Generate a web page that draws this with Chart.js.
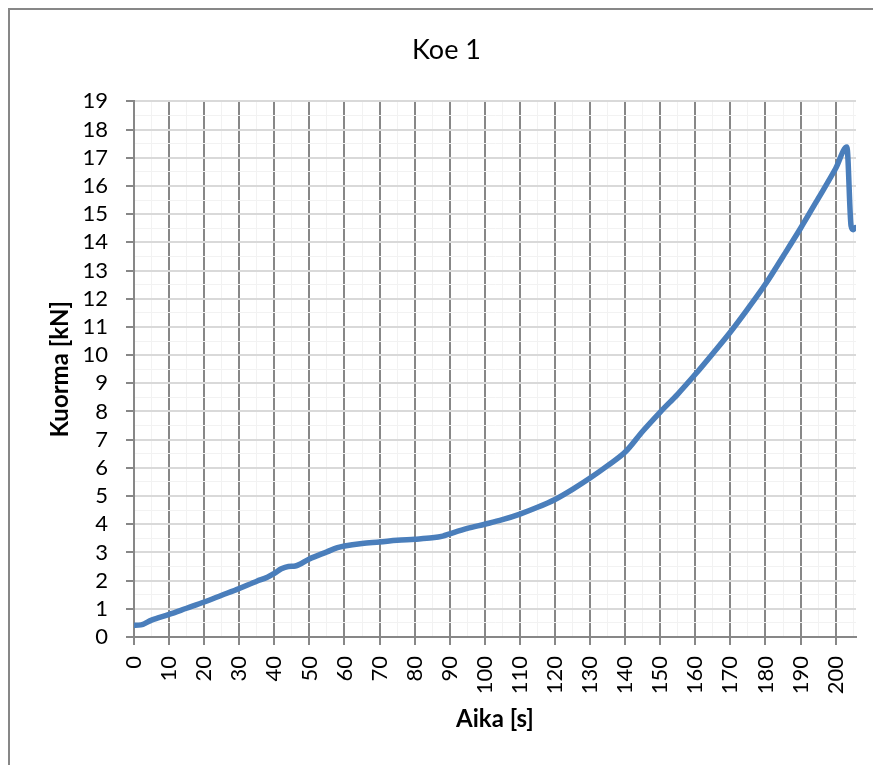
<!DOCTYPE html>
<html lang="fi">
<head>
  <meta charset="UTF-8">
  <title>Koe 1</title>
  <script src="https://cdn.jsdelivr.net/npm/chart.js"></script>
  <style>
    html, body { margin: 0; padding: 0; background: #fff; overflow: hidden; }
    #frame { position: absolute; left: 8px; top: 8px; width: 900px; height: 800px; border: 2px solid #878787; }
    #myChart { position: absolute; left: 0; top: 0; }
  </style>
</head>
<body>
  <div id="frame"></div>
  <canvas id="myChart" width="873" height="765"></canvas>

<script>
  // time [s] and load [kN]
  var aika   = [0, 2, 5, 10, 15, 20, 25, 30, 35, 38, 40, 42, 44, 46, 50, 55, 58, 60, 65, 70,
                75, 80, 85, 88, 90, 95, 100, 105, 110, 115, 120, 125, 130, 135, 140, 145, 150,
                155, 160, 165, 170, 175, 180, 185, 190, 195, 200, 203.2, 204.4, 205, 205.6];
  var kuorma = [0.42, 0.43, 0.6, 0.8, 1.02, 1.24, 1.48, 1.72, 1.98, 2.12, 2.26, 2.42, 2.5, 2.52, 2.77, 3.02, 3.17, 3.23, 3.32, 3.37,
                3.43, 3.47, 3.52, 3.58, 3.66, 3.85, 4.0, 4.16, 4.36, 4.6, 4.88, 5.24, 5.64, 6.08, 6.56, 7.3, 7.98,
                8.62, 9.32, 10.06, 10.82, 11.65, 12.52, 13.5, 14.5, 15.55, 16.62, 17.38, 14.58, 14.45, 14.52];

  var xMax = 205.8;
  var yMax = 19;

  var points = [];
  for (var i = 0; i < aika.length; i++) {
    points.push({x: aika[i], y: kuorma[i]});
  }

  function isMajor(v, step) {
    return Math.abs(v / step - Math.round(v / step)) < 1e-6;
  }

  const ctx = document.getElementById('myChart');

  const config = {
    type: 'line',
    data: {
      datasets: [{
        label: 'Koe 1',
        data: points,
        borderColor: '#4a7ebb',
        borderWidth: 5.5,
        pointRadius: 0,
        cubicInterpolationMode: 'monotone',
        borderCapStyle: 'round',
        borderJoinStyle: 'round',
        fill: false
      }]
    },
    options: {
      responsive: false,
      animation: false,
      layout: { padding: { left: 37, right: 17, top: 0, bottom: 0 } },
      plugins: {
        legend: { display: false },
        tooltip: { enabled: false },
        title: {
          display: true,
          text: 'Koe 1',
          color: '#000',
          font: { family: 'Lato', size: 27, weight: 'normal' },
          padding: { top: 34, bottom: 35 }
        }
      },
      scales: {
        x: {
          type: 'linear',
          min: 0,
          max: xMax,
          afterFit: function(scale) {
            scale.height = 128;
            scale.paddingLeft = 0;
            scale.paddingRight = 0;
          },
          border: { color: '#878787', width: 2 },
          grid: {
            color: function(c) { return isMajor(c.tick.value, 10) ? '#878787' : '#f2f2f2'; },
            lineWidth: function(c) { return isMajor(c.tick.value, 10) ? 2 : 1; },
            tickColor: function(c) { return isMajor(c.tick.value, 10) ? '#878787' : 'rgba(0,0,0,0)'; },
            tickWidth: 2,
            tickLength: 8
          },
          ticks: {
            stepSize: 5,
            includeBounds: false,
            autoSkip: false,
            minRotation: 90,
            maxRotation: 90,
            padding: 11,
            color: '#000',
            font: { family: 'Lato', size: 22 },
            callback: function(v) { return isMajor(v, 10) ? v : ''; }
          },
          title: {
            display: true,
            text: 'Aika [s]',
            color: '#000',
            font: { family: 'Lato', size: 24, weight: 'bold' },
            padding: { top: 0, bottom: 31 }
          }
        },
        y: {
          type: 'linear',
          min: 0,
          max: yMax,
          afterFit: function(scale) { scale.width = 97; },
          border: { color: '#878787', width: 2 },
          grid: {
            color: function(c) { return isMajor(c.tick.value, 1) ? '#d9d9d9' : '#f2f2f2'; },
            lineWidth: function(c) { return isMajor(c.tick.value, 1) ? 2 : 1; },
            tickColor: function(c) { return isMajor(c.tick.value, 1) ? '#878787' : 'rgba(0,0,0,0)'; },
            tickWidth: 2,
            tickLength: 8
          },
          ticks: {
            stepSize: 0.5,
            autoSkip: false,
            padding: 18,
            color: '#000',
            font: { family: 'Lato', size: 22 },
            callback: function(v) { return isMajor(v, 1) ? v : ''; }
          },
          title: {
            display: true,
            text: 'Kuorma [kN]',
            color: '#000',
            font: { family: 'Lato', size: 24, weight: 'bold' },
            padding: { top: 9, bottom: 0 }
          }
        }
      }
    }
  };

  var chart = new Chart(ctx, config);
</script>
</body>
</html>
